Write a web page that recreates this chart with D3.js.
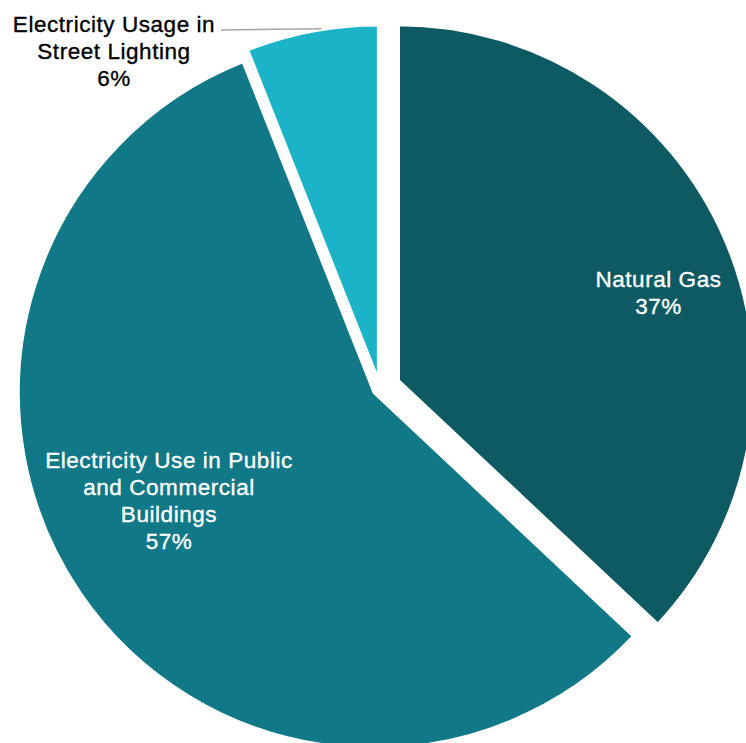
<!DOCTYPE html>
<html>
<head>
<meta charset="utf-8">
<script src="https://cdn.jsdelivr.net/npm/d3@7"></script>
<style>
  html, body { margin: 0; padding: 0; background: #ffffff; }
  svg { display: block; }
  text { font-family: "Liberation Sans", Arial, Helvetica, sans-serif; }
</style>
</head>
<body>
<div id="chart"></div>
<script>
// Energy use split, drawn as an exploded pie
const categories = [
  "Natural Gas",
  "Electricity Use in Public and Commercial Buildings",
  "Electricity Usage in Street Lighting"
];
const values = [37, 57, 6];
const labelLines = [
  ["Natural Gas"],
  ["Electricity Use in Public", "and Commercial", "Buildings"],
  ["Electricity Usage in", "Street Lighting"]
];
const sliceColors = ["#0e5a63", "#107886", "#1ab3c8"];
const labelColors = ["#ffffff", "#ffffff", "#000000"];

// Layout
const width = 746, height = 743;
const center = [380, 388.6];
const radius = 356;
const explode = [20, 7, 8];          // outward offset of each slice
const labelAnchor = [                 // first-line baseline of each label
  [658.5, 286.7],
  [169, 467.7],
  [114, 31.7]
];
const lineHeight = 27.2;

const svg = d3.select("#chart").append("svg")
  .attr("width", width)
  .attr("height", height)
  .attr("viewBox", [0, 0, width, height]);

const pie = d3.pie().sort(null).value(d => d);
const arcs = pie(values);
const arc = d3.arc().innerRadius(0).outerRadius(radius);

const offsetOf = (a, i) => {
  const mid = (a.startAngle + a.endAngle) / 2;
  return [center[0] + Math.sin(mid) * explode[i], center[1] - Math.cos(mid) * explode[i]];
};

svg.append("g")
  .selectAll("path")
  .data(arcs)
  .join("path")
  .attr("transform", (a, i) => `translate(${offsetOf(a, i)})`)
  .attr("d", arc)
  .attr("fill", (a, i) => sliceColors[i])
  .attr("stroke", "#ffffff")
  .attr("stroke-width", 3.3)
  .attr("stroke-linejoin", "miter");

// Leader line from the street lighting label to its slice edge
{
  const i = 2;
  const [vx, vy] = offsetOf(arcs[i], i);
  const y = 29.5;
  const xEdge = vx - Math.sqrt(radius * radius - (vy - y) * (vy - y)) + 1;
  svg.append("line")
    .attr("x1", 221).attr("y1", 30)
    .attr("x2", xEdge).attr("y2", y - 0.8)
    .attr("stroke", "#a6a6a6")
    .attr("stroke-width", 1.5);
}

// Labels: category lines then the percentage
const labels = svg.append("g")
  .selectAll("text")
  .data(arcs)
  .join("text")
  .attr("text-anchor", "middle")
  .attr("font-size", 22.5)
  .attr("letter-spacing", 0.55)
  .attr("fill", (a, i) => labelColors[i])
  .attr("stroke", (a, i) => labelColors[i])
  .attr("stroke-width", 0.35);

labels.each(function (a, i) {
  const t = d3.select(this);
  const lines = labelLines[i].concat([`${a.data}%`]);
  lines.forEach((s, k) => {
    t.append("tspan")
      .attr("x", labelAnchor[i][0])
      .attr("y", labelAnchor[i][1] + k * lineHeight)
      .text(s);
  });
});
</script>
</body>
</html>
